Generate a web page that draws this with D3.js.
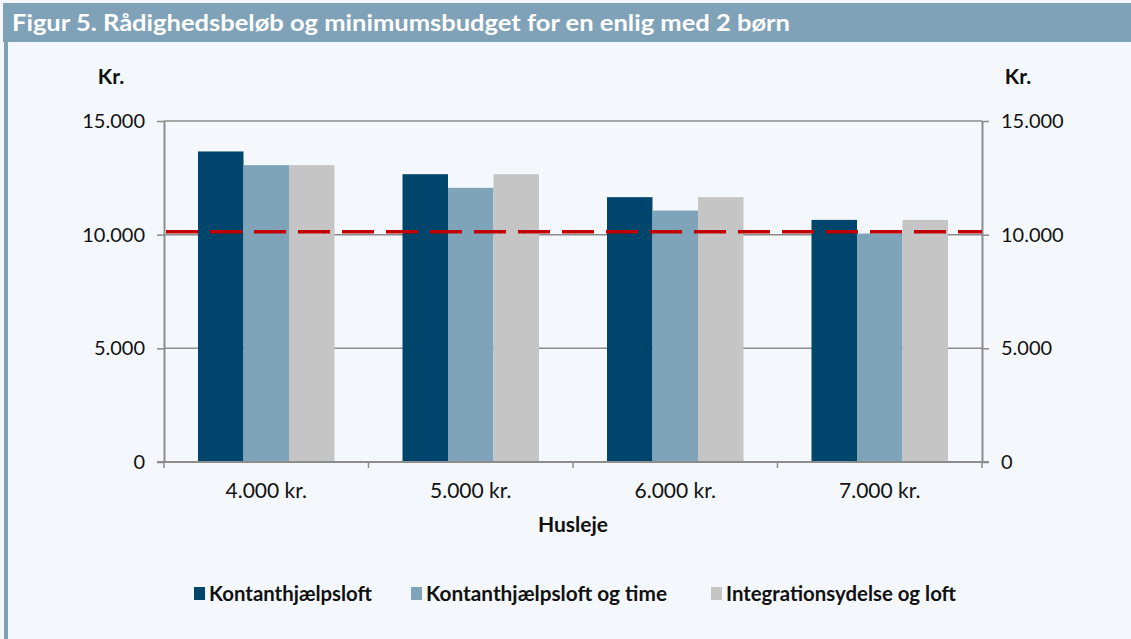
<!DOCTYPE html>
<html>
<head>
<meta charset="utf-8">
<script src="https://cdn.jsdelivr.net/npm/d3@7"></script>
<style>
  body { margin: 0; background: #f4f8fc; }
  svg { display: block; }
</style>
</head>
<body>
<svg width="1131" height="639"></svg>
<script>
// data
const categories = ["4.000 kr.", "5.000 kr.", "6.000 kr.", "7.000 kr."];
const seriesNames = ["Kontanthjælpsloft", "Kontanthjælpsloft og time", "Integrationsydelse og loft"];
const kontanthjaelpsloft = [13660, 12660, 11650, 10650];
const loftOgTime = [13060, 12060, 11060, 10050];
const integrationsydelse = [13060, 12660, 11650, 10650];
const minimumsbudget = 10130;
const yTicks = [0, 5000, 10000, 15000];
const colors = ["#00466c", "#7fa3b8", "#c5c5c5"];

const series = [kontanthjaelpsloft, loftOgTime, integrationsydelse];

const svg = d3.select("svg");
const W = 1131, H = 639;

// frame
svg.append("rect").attr("x", 0).attr("y", 0).attr("width", W).attr("height", H).attr("fill", "#f4f8fc");
svg.append("rect").attr("x", 3).attr("y", 3).attr("width", W - 3).attr("height", 39).attr("fill", "#7fa2b8");
svg.append("rect").attr("x", 4).attr("y", 42).attr("width", 4).attr("height", H - 42).attr("fill", "#7fa2b8");
svg.append("text").attr("x", 12).attr("y", 31)
  .attr("fill", "#fff").attr("font-family", "Lato, sans-serif").attr("font-weight", "bold")
  .attr("font-size", 23).attr("textLength", 778).attr("lengthAdjust", "spacingAndGlyphs")
  .text("Figur 5. Rådighedsbeløb og minimumsbudget for en enlig med 2 børn");

const plotLeft = 164, plotRight = 982, plotTop = 121, plotBottom = 462;

const x0 = d3.scaleBand().domain(categories).range([plotLeft, plotRight]).paddingInner(0).paddingOuter(0);
const x1 = d3.scaleBand().domain(d3.range(series.length)).range([34, x0.bandwidth() - 34]);
const y = d3.scaleLinear().domain([0, 15000]).range([plotBottom, plotTop]);

// gridlines
svg.append("g").selectAll("line").data(yTicks.filter(d => d > 0)).join("line")
  .attr("x1", plotLeft).attr("x2", plotRight).attr("y1", d => y(d)).attr("y2", d => y(d))
  .attr("stroke", "#8c8c8c").attr("stroke-width", 1.5);

// bars
const groups = svg.append("g").selectAll("g").data(categories).join("g")
  .attr("transform", d => `translate(${x0(d)},0)`);
groups.selectAll("rect").data((c, i) => series.map((s, k) => ({ k, v: s[i] }))).join("rect")
  .attr("x", d => x1(d.k)).attr("width", x1.bandwidth())
  .attr("y", d => y(d.v)).attr("height", d => y(0) - y(d.v))
  .attr("fill", d => colors[d.k]);

// axes
const tickFmt = d => d3.format(",")(d).replace(/,/g, ".");
const axisStyle = g => {
  g.select(".domain").attr("stroke", "#8c8c8c").attr("stroke-width", 2);
  g.selectAll(".tick line").attr("stroke", "#8c8c8c").attr("stroke-width", 1.5);
  g.selectAll("text").attr("font-family", "Lato, sans-serif").attr("font-size", 20).attr("fill", "#111");
};
svg.append("g").attr("transform", `translate(${plotLeft},0)`)
  .call(d3.axisLeft(y).tickValues(yTicks).tickFormat(tickFmt).tickSize(7).tickSizeOuter(0).tickPadding(12))
  .call(axisStyle);
svg.append("g").attr("transform", `translate(${plotRight},0)`)
  .call(d3.axisRight(y).tickValues(yTicks).tickFormat(tickFmt).tickSize(7).tickSizeOuter(0).tickPadding(12))
  .call(axisStyle);

// x axis with ticks at band boundaries
const xb = svg.append("g").attr("transform", `translate(0,${plotBottom})`);
xb.append("line").attr("x1", plotLeft - 7).attr("x2", plotRight + 7).attr("stroke", "#8c8c8c").attr("stroke-width", 2);
xb.selectAll("line.t").data(categories.map(c => x0(c)).concat([plotRight])).join("line")
  .attr("class", "t").attr("x1", d => d).attr("x2", d => d).attr("y1", 0).attr("y2", 6)
  .attr("stroke", "#8c8c8c").attr("stroke-width", 1.5);
xb.selectAll("text").data(categories).join("text")
  .attr("x", d => x0(d) + x0.bandwidth() / 2).attr("y", 36).attr("text-anchor", "middle")
  .attr("font-family", "Lato, sans-serif").attr("font-size", 21).attr("fill", "#111")
  .text(d => d);

// minimumsbudget line
svg.append("line").attr("x1", plotLeft + 2).attr("x2", plotRight).attr("y1", y(minimumsbudget)).attr("y2", y(minimumsbudget))
  .attr("stroke", "#c00000").attr("stroke-width", 3.5).attr("stroke-dasharray", "32,12");

// axis titles
const label = (tx, ty, t, size) => svg.append("text").attr("x", tx).attr("y", ty)
  .attr("text-anchor", "middle").attr("font-family", "Lato, sans-serif").attr("font-weight", "bold")
  .attr("font-size", size).attr("fill", "#111").text(t);
label(111, 84, "Kr.", 21);
label(1018, 84, "Kr.", 21);
label(573, 532, "Husleje", 21);

// legend
const legendX = [194, 411, 711];
const legendW = [163, 241, 230];
const legend = svg.append("g").selectAll("g").data(seriesNames).join("g")
  .attr("transform", (d, i) => `translate(${legendX[i]},594)`);
legend.append("rect").attr("x", 0).attr("y", -7).attr("width", 11).attr("height", 13).attr("fill", (d, i) => colors[i]);
legend.append("text").attr("x", 15).attr("y", 7)
  .attr("font-family", "Lato, sans-serif").attr("font-weight", "bold").attr("font-size", 20).attr("fill", "#111")
  .attr("textLength", (d, i) => legendW[i]).attr("lengthAdjust", "spacingAndGlyphs")
  .text(d => d);
</script>
</body>
</html>
